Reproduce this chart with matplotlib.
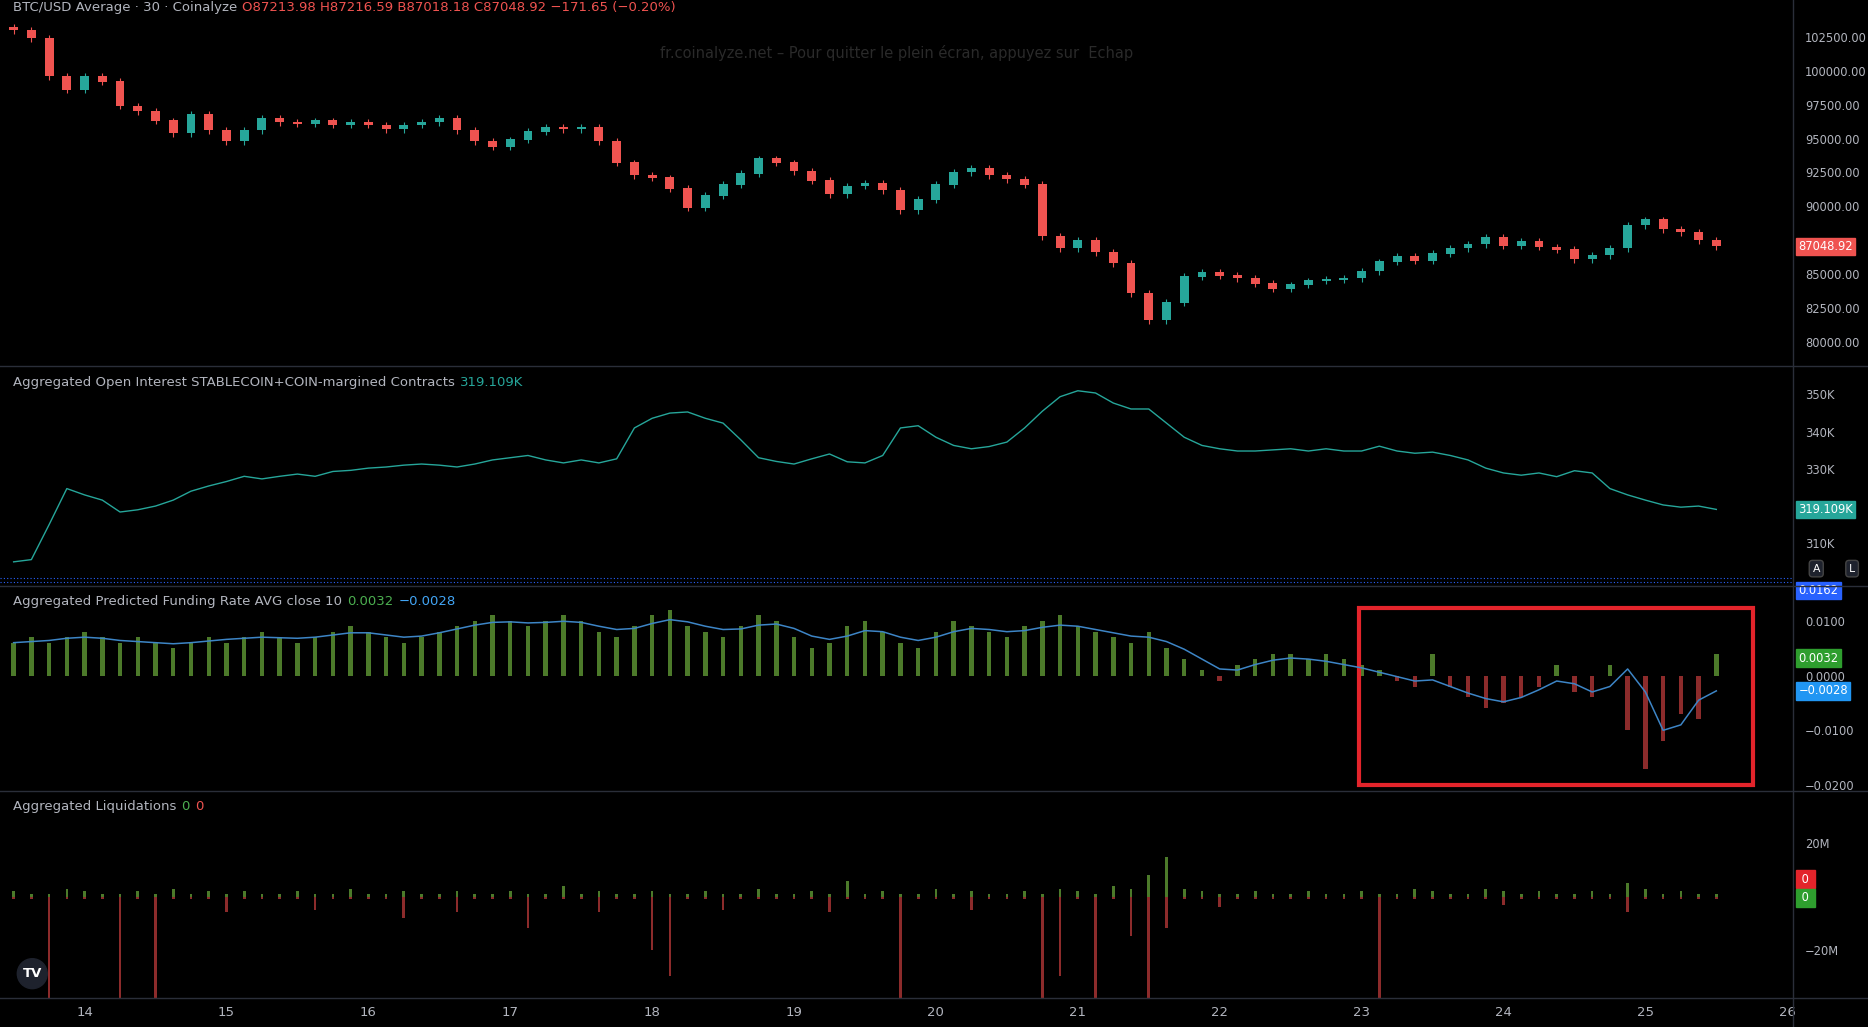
import numpy as np
import matplotlib
matplotlib.use("Agg")
import matplotlib.pyplot as plt
from matplotlib.patches import Rectangle

plt.rcParams['font.family'] = ['DejaVu Sans']

# ---- data (3-hour sampling, days of month) ----
t_start, t_step = 13.5, 0.125
closes = [103.0,102.4,99.6,98.6,99.6,99.2,97.4,97.0,96.3,95.4,96.8,95.6,
          94.8,95.6,96.5,96.2,96.1,96.3,96.0,96.2,96.0,95.7,96.0,96.2,
          96.5,95.6,94.8,94.4,94.9,95.5,95.8,95.7,95.8,94.8,93.2,92.3,
          92.1,91.3,89.9,90.8,91.6,92.4,93.5,93.2,92.6,91.9,90.9,91.5,
          91.7,91.2,89.7,90.5,91.6,92.5,92.8,92.3,92.0,91.6,87.8,86.9,
          87.5,86.6,85.8,83.6,81.6,82.9,84.8,85.1,84.9,84.7,84.3,83.9,
          84.2,84.5,84.6,84.7,85.2,85.9,86.3,86.0,86.5,86.9,87.2,87.7,
          87.1,87.4,87.0,86.8,86.1,86.4,86.9,88.6,89.0,88.3,88.1,87.5,87.05]
first_open = 103.2

oi = [305.0,305.6,315.0,324.7,323.0,321.6,318.4,319.0,320.0,321.6,324.0,325.4,
      326.6,328.0,327.3,328.0,328.6,328.0,329.3,329.6,330.2,330.5,331.0,331.3,
      331.0,330.5,331.3,332.4,333.0,333.6,332.4,331.6,332.4,331.6,332.7,341.0,
      343.6,345.0,345.3,343.6,342.3,337.8,333.0,332.0,331.3,332.7,334.0,331.9,
      331.6,333.6,341.0,341.6,338.5,336.3,335.4,336.0,337.2,341.0,345.5,349.4,
      351.0,350.4,347.7,346.1,346.1,342.3,338.5,336.3,335.4,334.8,334.8,335.1,
      335.4,334.8,335.4,334.8,334.8,336.1,334.8,334.2,334.5,333.6,332.4,330.2,
      328.9,328.3,328.9,327.9,329.5,328.9,324.7,323.0,321.6,320.3,319.7,320.0,319.1]

hist = [0.006,0.007,0.006,0.007,0.008,0.007,0.006,0.007,0.006,0.005,0.006,0.007,
        0.006,0.007,0.008,0.007,0.006,0.007,0.008,0.009,0.008,0.007,0.006,0.007,
        0.008,0.009,0.010,0.011,0.010,0.009,0.010,0.011,0.010,0.008,0.007,0.009,
        0.011,0.012,0.009,0.008,0.007,0.009,0.011,0.010,0.007,0.005,0.006,0.009,
        0.010,0.008,0.006,0.005,0.008,0.010,0.009,0.008,0.007,0.009,0.010,0.011,
        0.009,0.008,0.007,0.006,0.008,0.005,0.003,0.001,-0.001,0.002,0.003,0.004,
        0.004,0.003,0.004,0.003,0.002,0.001,-0.001,-0.002,0.004,-0.002,-0.004,-0.006,
        -0.005,-0.004,-0.002,0.002,-0.003,-0.004,0.002,-0.010,-0.017,-0.012,-0.007,-0.008,0.004]

ma = [0.0060,0.0062,0.0064,0.0068,0.0070,0.0068,0.0064,0.0062,0.0060,0.0058,0.0060,0.0063,
      0.0066,0.0068,0.0070,0.0069,0.0068,0.0070,0.0074,0.0078,0.0078,0.0074,0.0070,0.0072,
      0.0078,0.0085,0.0092,0.0097,0.0098,0.0096,0.0097,0.0099,0.0097,0.0090,0.0084,0.0086,
      0.0095,0.0102,0.0098,0.0090,0.0084,0.0085,0.0092,0.0094,0.0086,0.0072,0.0066,0.0072,
      0.0082,0.0080,0.0070,0.0064,0.0070,0.0080,0.0086,0.0084,0.0080,0.0082,0.0088,0.0092,
      0.0090,0.0084,0.0078,0.0072,0.0070,0.0062,0.0048,0.0030,0.0012,0.0010,0.0020,0.0028,
      0.0032,0.0030,0.0026,0.0020,0.0014,0.0006,-0.0002,-0.0010,-0.0008,-0.0020,-0.0032,-0.0042,
      -0.0048,-0.0040,-0.0026,-0.0010,-0.0015,-0.0030,-0.0020,0.0012,-0.0030,-0.0100,-0.0090,-0.0045,-0.0028]

liq_long = [-1,-1,-40,-1,-1,-1,-40,-1,-40,-1,-1,-1,
            -6,-1,-1,-1,-1,-5,-1,-1,-1,-1,-8,-1,
            -1,-6,-1,-1,-1,-12,-1,-1,-1,-6,-1,-1,
            -20,-30,-1,-1,-5,-1,-1,-1,-1,-1,-6,-1,
            -1,-1,-40,-1,-1,-1,-5,-1,-1,-1,-40,-30,
            -1,-40,-1,-15,-40,-12,-1,-1,-4,-1,-1,-1,
            -1,-1,-1,-1,-1,-40,-1,-1,-1,-1,-1,-1,
            -3,-1,-1,-1,-1,-1,-1,-6,-1,-1,-1,-1,-1]
liq_short = [2,1,1,3,2,1,1,2,1,3,1,2,
             1,2,1,1,2,1,1,3,1,1,2,1,
             1,2,1,1,2,1,1,4,1,2,1,1,
             2,1,1,2,1,1,3,1,1,2,1,6,
             1,2,1,1,3,1,2,1,1,2,1,3,
             2,1,4,3,8,15,3,2,1,1,2,1,
             1,2,1,1,2,1,1,3,2,1,1,3,
             2,1,2,1,1,2,1,5,3,1,2,1,1]

day_ticks = list(range(14, 27))
price_ticks = [80000, 82500, 85000, 90000, 92500, 95000, 97500, 100000, 102500]
oi_ticks = [310, 330, 340, 350]
fr_ticks = [-0.02, -0.01, 0.0, 0.01]
liq_ticks = [-20, 20]

# ---- style ----
BG = "#000000"
TXT = "#b2b5be"
UP = "#26a69a"
DN = "#ef5350"
SEP = "#2a2e39"
FS = 9.5
YFS = 8.3

t = t_start + t_step * np.arange(len(closes))
c = np.array(closes) * 1000
o = np.concatenate([[first_open * 1000], c[:-1]])

W, H = 1568, 862
fig = plt.figure(figsize=(18.68, 10.27), dpi=100, facecolor=BG)
XL = (13.404, 26.04)
axw = 1505 / W

def mkax(top, bot):
    ax = fig.add_axes([0, 1 - bot / H, axw, (bot - top) / H], facecolor=BG)
    ax.set_xlim(*XL)
    for s in ax.spines.values():
        s.set_visible(False)
    ax.tick_params(axis='x', bottom=False, labelbottom=False)
    ax.yaxis.tick_right()
    ax.tick_params(axis='y', right=False, colors=TXT, labelsize=YFS, pad=5)
    return ax

def legend(ax, parts, y=0.93):
    prev = None
    for txt, col in parts:
        if prev is None:
            prev = ax.text(0.007, y, txt, transform=ax.transAxes, color=col, fontsize=FS, va='center')
        else:
            prev = ax.annotate(txt, xy=(1, 0.5), xycoords=prev, xytext=(4, 0),
                               textcoords='offset points', color=col, fontsize=FS, va='center')

def badge(ax, y, lab, fc):
    ax.text(1.003, y, lab, transform=ax.get_yaxis_transform(), color='white', fontsize=YFS,
            va='center', ha='left', bbox=dict(boxstyle='square,pad=0.2', fc=fc, ec=fc))

# Price
ax1 = mkax(0, 306)
ax1.set_ylim(78330, 105225)
cols = [UP if ci >= oi_ else DN for ci, oi_ in zip(c, o)]
ax1.vlines(t, np.minimum(c, o) - 250, np.maximum(c, o) + 250, colors=cols, lw=0.8)
ax1.bar(t, np.abs(c - o) + 40, bottom=np.minimum(c, o), width=t_step * 0.5, color=cols)
ax1.set_yticks(price_ticks)
ax1.set_yticklabels([f"{v:.2f}" for v in price_ticks])
legend(ax1, [("BTC/USD Average · 30 · Coinalyze", TXT),
             ("O87213.98 H87216.59 B87018.18 C87048.92 −171.65 (−0.20%)", DN)], y=0.98)
ax1.text(0.5, 0.855, "fr.coinalyze.net – Pour quitter le plein écran, appuyez sur  Echap",
         transform=ax1.transAxes, color="#2a2a2a", fontsize=FS + 1, ha='center', va='center')
badge(ax1, 87048.92, "87048.92", DN)

# Open interest
ax2 = mkax(308, 490)
ax2.set_ylim(299.1, 357.4)
ax2.plot(t, oi, color=UP, lw=1.0)
ax2.set_yticks(oi_ticks)
ax2.set_yticklabels([f"{v}K" for v in oi_ticks])
legend(ax2, [("Aggregated Open Interest STABLECOIN+COIN-margined Contracts", TXT), ("319.109K", UP)])
badge(ax2, 319.109, "319.109K", UP)
for xx, lab in [(1.013, "A"), (1.033, "L")]:
    ax2.text(xx, 0.07, lab, transform=ax2.transAxes, color='white', fontsize=YFS - 0.5,
             ha='center', va='center', bbox=dict(boxstyle='round,pad=0.3', fc="#1e222d", ec="#444"))
ax2.axhline(299.6, color="#2962ff", lw=0.8, ls=(0, (1, 2)))
ax2.axhline(300.6, color="#2962ff", lw=0.8, ls=(0, (1, 2)))

# Funding
ax3 = mkax(493, 663)
ax3.set_ylim(-0.02087, 0.01609)
h = np.array(hist)
ax3.bar(t, h, width=t_step * 0.25, color=np.where(h >= 0, "#4c7a2a", "#8c2b2b"))
ax3.plot(t, ma, color="#3d85c6", lw=1.1)
ax3.set_yticks(fr_ticks)
ax3.set_yticklabels(["−0.0200", "−0.0100", "0.0000", "0.0100"])
legend(ax3, [("Aggregated Predicted Funding Rate AVG close 10", TXT), ("0.0032", "#4caf50"), ("−0.0028", "#42a5f5")])
badge(ax3, 0.0155, "0.0162", "#2962ff")
badge(ax3, 0.0032, "0.0032", "#2e9e2e")
badge(ax3, -0.0028, "−0.0028", "#2196f3")
ax3.add_patch(Rectangle((22.98, -0.0199), 2.78, 0.0323, fill=False, ec="#e3242b", lw=3))

# Liquidations
ax4 = mkax(665, 838)
ax4.set_ylim(-38.4, 39.3)
ax4.bar(t, liq_long, width=t_step * 0.15, color="#8c2b2b")
ax4.bar(t, liq_short, width=t_step * 0.15, color="#4c7a2a")
ax4.set_yticks(liq_ticks)
ax4.set_yticklabels(["−20M", "20M"])
legend(ax4, [("Aggregated Liquidations", TXT), ("0", "#4caf50"), ("0", DN)])
badge(ax4, 6.5, " 0 ", "#e3242b")
badge(ax4, -0.5, " 0 ", "#2e9e2e")
ax4.text(0.018, 0.12, "TV", transform=ax4.transAxes, color='white', fontsize=FS, ha='center', va='center',
         fontweight='bold', bbox=dict(boxstyle='circle,pad=0.4', fc="#1e222d", ec="#1e222d"))

# X axis labels
axx = fig.add_axes([0, 0, axw, 24 / H], facecolor=BG)
axx.set_xlim(*XL)
axx.set_ylim(0, 1)
axx.axis('off')
for d in day_ticks:
    axx.text(d, 0.5, str(d), color=TXT, fontsize=FS, ha='center', va='center')

# separators
for y in [307, 491.5, 664, 838]:
    fig.add_artist(plt.Line2D([0, 1], [1 - y / H] * 2, color=SEP, lw=1))
fig.add_artist(plt.Line2D([axw, axw], [0, 1], color=SEP, lw=1))

fig.savefig("out.png", dpi=100, facecolor=BG)
